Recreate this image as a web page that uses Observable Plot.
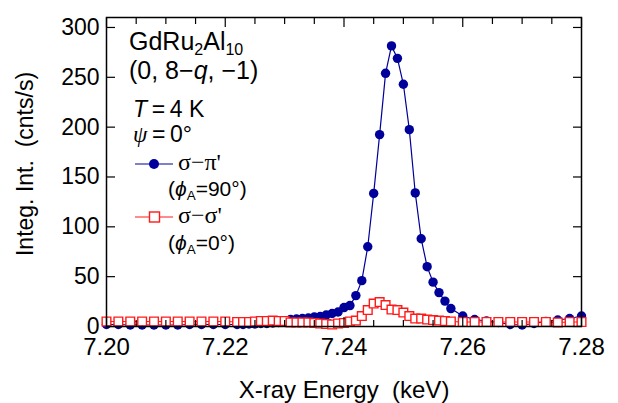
<!DOCTYPE html>
<html><head><meta charset="utf-8">
<script src="https://cdn.jsdelivr.net/npm/d3@7"></script>
<script src="https://cdn.jsdelivr.net/npm/@observablehq/plot@0.6"></script>
<style>body{margin:0;background:#fff;} svg{font-family:"Liberation Sans",Arial,sans-serif;}</style>
</head><body><div id="chart"></div>
<script>
// X-ray energy (keV)
const energy = [
  7.200, 7.202, 7.204, 7.206, 7.208, 7.210, 7.212, 7.214, 7.216, 7.218, 7.220,
  7.222, 7.223, 7.224, 7.225, 7.226, 7.227, 7.228, 7.229, 7.230,
  7.231, 7.232, 7.233, 7.234, 7.235, 7.236, 7.237, 7.238, 7.239, 7.240,
  7.241, 7.242, 7.243, 7.244, 7.245, 7.246, 7.247, 7.248, 7.249, 7.250,
  7.251, 7.252, 7.253, 7.254, 7.255, 7.256, 7.257, 7.258,
  7.260, 7.262, 7.264, 7.266, 7.268, 7.270, 7.272, 7.274, 7.276, 7.278, 7.280
];
// sigma - pi' (phi_A = 90 deg)
const sigmaPi = [
  2, 2, 1.5, 1.5, 1.5, 1.5, 1.5, 2, 2, 2, 2,
  2, 2, 2.5, 2.5, 3, 3, 3.5, 4, 5,
  7, 7.5, 8, 8.5, 9.5, 10, 11.5, 13, 14.5, 19,
  21, 31, 46, 80, 133.5, 192.5, 254, 281.5, 269, 243,
  197.5, 134, 88, 60, 44.5, 34, 25.5, 18,
  10.5, 7, 5.5, 4, 2, 1.5, 3, 5, 6.5, 8, 10.5
];
// sigma - sigma' (phi_A = 0 deg)
const sigmaSigma = [
  5, 5, 5, 5, 5, 5, 5, 5, 5, 5, 5,
  4.5, 4.5, 4.5, 5, 5.5, 5.5, 6, 5.5, 5.5,
  4, 4, 4, 4, 3.5, 3, 2.5, 2, 3, 3.5,
  5, 6, 10.5, 16.5, 23, 24.5, 21.5, 17, 16.5, 14,
  10.5, 8, 8, 7, 6.5, 6, 5.5, 5,
  4.5, 4.5, 4.5, 4.5, 4.5, 4.5, 4.5, 4.5, 4, 4.5, 4.5
];
const xMajor = [7.20, 7.22, 7.24, 7.26, 7.28];
const xMinor = [7.205, 7.21, 7.215, 7.225, 7.23, 7.235, 7.245, 7.25, 7.255, 7.265, 7.27, 7.275];
const yMajor = [0, 50, 100, 150, 200, 250, 300];

const BLUE = "#00009a", RED = "#ff1a1a";
const piData = energy.map((e, i) => ({e, v: sigmaPi[i]}));
const ssData = energy.map((e, i) => ({e, v: sigmaSigma[i]}));

function legend(index, scales, values, dims) {
  const L = dims.marginLeft, T = dims.marginTop;
  const g = d3.create("svg:g").attr("fill", "black").attr("text-anchor", "start");
  function rich(x, y, size, parts) {
    const t = g.append("text").attr("x", x).attr("y", y).attr("font-size", size);
    for (const p of parts) {
      const s = t.append("tspan").text(p.t);
      if (p.i) s.attr("font-style", "italic");
      if (p.serif) s.attr("font-family", "Liberation Serif, serif");
      if (p.sub) s.attr("font-size", size * 0.64).attr("dy", size * 0.18);
      if (p.up) s.attr("dy", -size * 0.18);
    }
  }
  rich(L + 23, T + 33, 25, [{t: "GdRu"}, {t: "2", sub: 1}, {t: "Al", up: 1}, {t: "10", sub: 1}]);
  rich(L + 23, T + 62, 25, [{t: "(0, 8\u2212"}, {t: "q", i: 1}, {t: ", \u22121)"}]);
  rich(L + 27, T + 100, 23, [{t: "T", i: 1}, {t: "\u2009=\u20094 K"}]);
  rich(L + 27, T + 125, 23, [{t: "\u03c8", i: 1, serif: 1}, {t: "\u2009=\u20090\u00b0"}]);
  // legend entries
  const ly1 = T + 147, ly2 = T + 200;
  g.append("line").attr("x1", L + 29).attr("x2", L + 67).attr("y1", ly1).attr("y2", ly1).attr("stroke", BLUE).attr("stroke-width", 1.2);
  g.append("circle").attr("cx", L + 48).attr("cy", ly1).attr("r", 5).attr("fill", BLUE);
  rich(L + 72, ly1 + 6, 24, [{t: "\u03c3\u2212\u03c0'", serif: 1}]);
  rich(L + 62, T + 179, 21, [{t: "("}, {t: "\u03d5", i: 1}, {t: "A", sub: 1}, {t: "=90\u00b0)", up: 1}]);
  g.append("line").attr("x1", L + 29).attr("x2", L + 67).attr("y1", ly2).attr("y2", ly2).attr("stroke", RED).attr("stroke-width", 1.2);
  g.append("rect").attr("x", L + 43.5).attr("y", ly2 - 5).attr("width", 10).attr("height", 10).attr("fill", "white").attr("stroke", RED).attr("stroke-width", 1.4);
  rich(L + 72, ly2 + 6, 24, [{t: "\u03c3\u2212\u03c3'", serif: 1}]);
  rich(L + 62, T + 233, 21, [{t: "("}, {t: "\u03d5", i: 1}, {t: "A", sub: 1}, {t: "=0\u00b0)", up: 1}]);
  return g.node();
}

const chart = Plot.plot({
  width: 618, height: 403,
  marginLeft: 106, marginRight: 37, marginTop: 17, marginBottom: 77,
  style: {fontFamily: "Liberation Sans, Arial, sans-serif", background: "white", color: "black", overflow: "visible"},
  x: {domain: [7.20, 7.28]},
  y: {domain: [0, 310]},
  marks: [
    Plot.line(piData, {x: "e", y: "v", stroke: BLUE, strokeWidth: 1.2}),
    Plot.dot(piData, {x: "e", y: "v", r: 4.7, fill: BLUE}),
    Plot.line(ssData, {x: "e", y: "v", stroke: RED, strokeWidth: 1}),
    Plot.dot(ssData, {x: "e", y: "v", symbol: "square", r: 4.9, fill: "white", stroke: RED, strokeWidth: 1.4}),
    Plot.axisX(xMajor, {anchor: "bottom", tickSize: -9, fill: "none", label: null, strokeWidth: 1.2}),
    Plot.axisX(xMinor, {anchor: "bottom", tickSize: -6, fill: "none", label: null, strokeWidth: 1.2}),
    Plot.axisX(xMajor, {anchor: "top", tickSize: -9, fill: "none", label: null, strokeWidth: 1.2}),
    Plot.axisX(xMinor, {anchor: "top", tickSize: -6, fill: "none", label: null, strokeWidth: 1.2}),
    Plot.axisX(xMajor, {anchor: "bottom", tickSize: 0, tickPadding: 11, stroke: "none", fontSize: 24, tickFormat: d => d.toFixed(2), label: null}),
    Plot.axisY(yMajor, {anchor: "left", tickSize: -9, fill: "none", label: null, strokeWidth: 1.2}),
    Plot.axisY(yMajor, {anchor: "right", tickSize: -9, fill: "none", label: null, strokeWidth: 1.2}),
    Plot.axisY(yMajor, {anchor: "left", tickSize: 0, tickPadding: 7, stroke: "none", fontSize: 23, label: null}),
    Plot.frame({stroke: "black", strokeWidth: 1.5}),
    Plot.text(["X-ray Energy\u00a0\u00a0(keV)"], {frameAnchor: "bottom", dy: 71, lineAnchor: "bottom", fontSize: 24}),
    Plot.text(["Integ. Int.\u00a0\u00a0(cnts/s)"], {frameAnchor: "left", textAnchor: "middle", rotate: -90, dx: -74, dy: -8, lineAnchor: "bottom", fontSize: 23}),
    legend
  ]
});
document.getElementById("chart").appendChild(chart);
</script>
</body></html>
